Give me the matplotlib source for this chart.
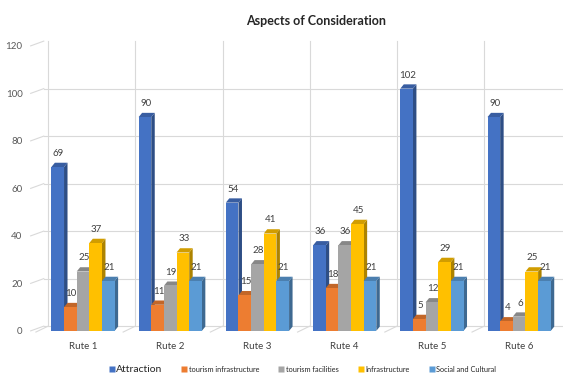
import numpy as np
import matplotlib
matplotlib.use('Agg')
import matplotlib.pyplot as plt
from matplotlib.patches import Polygon
from matplotlib.colors import to_rgb
from matplotlib.lines import Line2D

# data
routes = ['Rute 1', 'Rute 2', 'Rute 3', 'Rute 4', 'Rute 5', 'Rute 6']
attraction = [69, 90, 54, 36, 102, 90]
tourism_infra = [10, 11, 15, 18, 5, 4]
tourism_facilities = [25, 19, 28, 36, 12, 6]
infrastructure = [37, 33, 41, 45, 29, 25]
social_cultural = [21, 21, 21, 21, 21, 21]

series = [
    ('Attraction', attraction, '#4472C4'),
    ('tourism infrastructure', tourism_infra, '#ED7D31'),
    ('tourism facilities', tourism_facilities, '#A5A5A5'),
    ('Infrastructure', infrastructure, '#FFC000'),
    ('Social and Cultural', social_cultural, '#5B9BD5'),
]

plt.rcParams['font.family'] = ['Lato', 'DejaVu Sans']

fig = plt.figure(figsize=(5.65, 3.76), dpi=100)
ax = fig.add_axes([0.062, 0.12, 0.934, 0.758])
ax.set_xlim(-0.55, 5.5)
ax.set_ylim(0, 120)

w = 0.145      # bar width
dx = 0.04      # depth (x)
dy = 1.8       # depth (y)
wall_dx = 0.1  # back wall shift
wall_dy = 2.0

grid_c = '#D9D9D9'
# back wall grid
for v in range(0, 121, 20):
    ax.plot([-0.45, 5.5], [v + wall_dy, v + wall_dy], color=grid_c, lw=0.8, zorder=0)
    ax.plot([-0.6, -0.45], [v, v + wall_dy], color=grid_c, lw=0.8, zorder=0, clip_on=False)
for k in range(6):
    xb = k - 0.5 + wall_dx
    ax.plot([xb, xb], [wall_dy, 120 + wall_dy], color=grid_c, lw=0.8, zorder=0, clip_on=False)
    # floor lines
    ax.plot([xb - 0.14, xb], [-0.5, wall_dy], color=grid_c, lw=0.8, zorder=0, clip_on=False)


def shade(c, f):
    r, g, b = to_rgb(c)
    return (r * f, g * f, b * f)


x = np.arange(len(routes))
for i, (name, vals, col) in enumerate(series):
    left = x - 2.5 * w + i * w
    z = 2 + i
    ax.bar(left, vals, width=w, align='edge', color=col, zorder=z, edgecolor='none')
    for x0, h in zip(left, vals):
        side = Polygon([(x0 + w, 0), (x0 + w + dx, dy), (x0 + w + dx, h + dy), (x0 + w, h)],
                       closed=True, facecolor=shade(col, 0.68), edgecolor='none', zorder=z - 0.5)
        top = Polygon([(x0, h), (x0 + dx, h + dy), (x0 + w + dx, h + dy), (x0 + w, h)],
                      closed=True, facecolor=shade(col, 0.82), edgecolor='none', zorder=z - 0.5)
        ax.add_patch(side)
        ax.add_patch(top)
        ax.text(x0 + w / 2 + 0.01, h + dy + 2.0, str(h), ha='center', va='bottom',
                fontsize=7, color='#404040', zorder=20)

ax.set_xticks(x)
ax.set_xticklabels(routes, fontsize=7, color='#404040')
ax.set_yticks(range(0, 121, 20))
ax.set_yticklabels([str(v) for v in range(0, 121, 20)], fontsize=7, color='#595959')
ax.tick_params(axis='x', length=0, pad=8)
ax.tick_params(axis='y', length=0, pad=9)
for s in ax.spines.values():
    s.set_visible(False)

fig.text(0.56, 0.945, 'Aspects of Consideration', ha='center', va='center',
         fontsize=9, fontweight='bold', color='#262626')

handles = [Line2D([], [], marker='s', linestyle='none', markersize=4,
                  markerfacecolor=c, markeredgecolor='none') for _, _, c in series]
leg = fig.legend(handles, [n for n, _, _ in series], loc='center', ncol=5,
                 bbox_to_anchor=(0.535, 0.018), frameon=False, fontsize=5.3,
                 handletextpad=0.2, columnspacing=2.6, handlelength=0.8)
leg.get_texts()[0].set_fontsize(7.5)
for t in leg.get_texts():
    t.set_color('#262626')

fig.savefig('out.png', dpi=100, facecolor='white')
